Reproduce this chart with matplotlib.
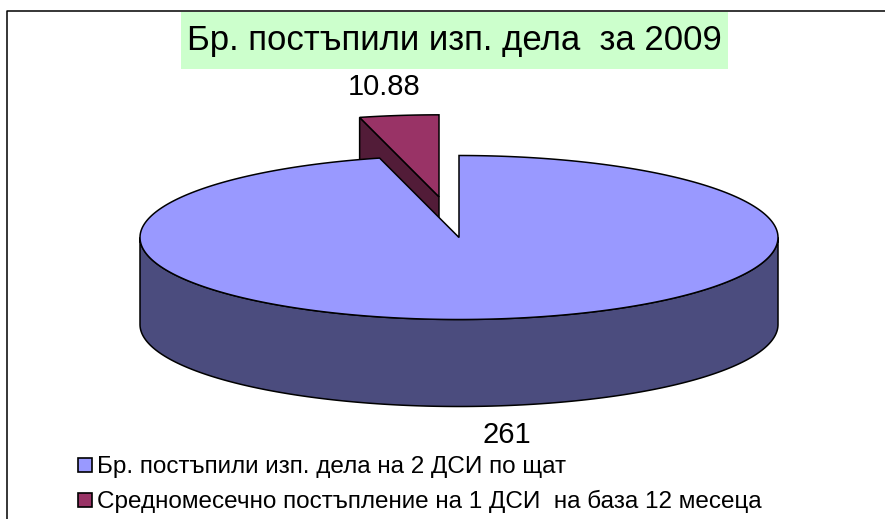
import numpy as np
import matplotlib
matplotlib.use("Agg")
import matplotlib.pyplot as plt
from matplotlib.patches import Polygon, Rectangle

plt.rcParams["font.family"] = ["Liberation Sans", "DejaVu Sans"]

title = "Бр. постъпили изп. дела  за 2009"
labels = ["Бр. постъпили изп. дела на 2 ДСИ по щат",
          "Средномесечно постъпление на 1 ДСИ  на база 12 месеца"]
values = [261, 10.88]
value_text = ["261", "10.88"]
explode = [0.0, 0.5]
top_colors = ["#9999FF", "#993366"]
side_colors = ["#4B4C7E", "#521C38"]

# pie geometry in pixel units
cx, cy = 459, 237.5
ra, rb = 319, 82
depth = 87
edge_kw = dict(edgecolor="black", linewidth=1.1, joinstyle="miter")


def rim(theta_deg, dx=0.0, dy=0.0, h=0.0):
    t = np.radians(theta_deg)
    return np.column_stack([cx + dx + ra * np.cos(t), cy + dy - rb * np.sin(t) + h])


fig = plt.figure(figsize=(8.85, 5.19), dpi=100)
ax = fig.add_axes([0, 0, 1, 1])
ax.set_xlim(0, 885)
ax.set_ylim(519, 0)
ax.axis("off")

# chart frame (top and left edges)
ax.plot([7, 7, 885], [519, 11, 11], color="black", lw=1.1)

# slices run clockwise from 12 o'clock, like Excel;
# each slice stored as (start, end) in counter-clockwise degrees
total = sum(values)
slices = []
pos = 90.0
for v, ex in zip(values, explode):
    sweep = 360.0 * v / total
    t1 = pos
    t0 = (pos - sweep) % 360
    t1 = t0 + sweep
    pos -= sweep
    mid = np.radians((t0 + t1) / 2)
    slices.append((t0, t1, ex * ra * np.cos(mid), -ex * rb * np.sin(mid)))

# exploded small slice sits behind, so it goes first
for i in [1, 0]:
    t0, t1, dx, dy = slices[i]
    apex = np.array([[cx + dx, cy + dy]])

    # radial face along the leading edge, turned towards the viewer
    if np.sin(np.radians(t1 - 90)) > 0 and i == 1:
        p_top = rim([t1], dx, dy)
        face = np.vstack([apex, p_top, p_top + [0, depth], apex + [0, depth]])
        ax.add_patch(Polygon(face, closed=True, facecolor=side_colors[i], **edge_kw))

    # curved outer wall, only the front half shows
    for shift in (0, 360):
        lo, hi = max(t0, 180 + shift), min(t1, 360 + shift)
        if hi > lo:
            th = np.linspace(lo, hi, 200)
            wall = np.vstack([rim(th, dx, dy), rim(th[::-1], dx, dy, depth)])
            ax.add_patch(Polygon(wall, closed=True, facecolor=side_colors[i], **edge_kw))

    # top face
    th = np.linspace(t0, t1, 400)
    ax.add_patch(Polygon(np.vstack([apex, rim(th, dx, dy)]), closed=True,
                         facecolor=top_colors[i], **edge_kw))

# data labels
t0, t1, dx, dy = slices[0]
lx, ly = rim([(t0 + t1) / 2], dx, dy, depth)[0]
ax.text(lx + 8, ly + 37, value_text[0], ha="center", va="baseline", fontsize=21)
t0, t1, dx, dy = slices[1]
lx, ly = rim([(t0 + t1) / 2], dx, dy)[0]
ax.text(lx - 15, ly - 20, value_text[1], ha="center", va="baseline", fontsize=21)

# title on green band
ax.add_patch(Rectangle((181, 12), 547, 57, facecolor="#CCFFCC", edgecolor="none"))
ax.text(454, 50, title, ha="center", va="baseline", fontsize=25)

# legend
for k, (lab, col) in enumerate(zip(labels, top_colors)):
    yc = 465 + 35 * k
    ax.add_patch(Rectangle((78, yc - 7), 14, 14, facecolor=col,
                           edgecolor="black", linewidth=1.2))
    ax.text(97, yc + 8, lab, ha="left", va="baseline", fontsize=17.5)

fig.savefig("out.png", dpi=100)
